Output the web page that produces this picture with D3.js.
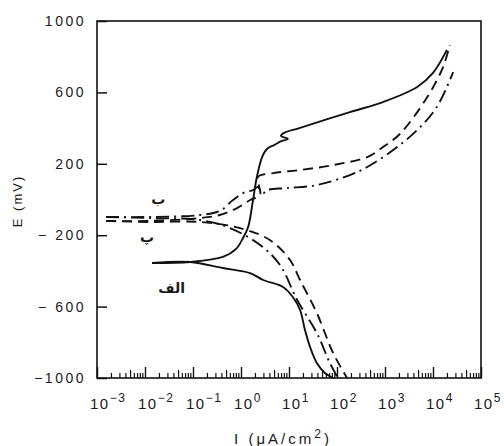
<!DOCTYPE html>
<html><head><meta charset="utf-8">
<script src="https://cdn.jsdelivr.net/npm/d3@7"></script>
<style>
html,body{margin:0;padding:0;background:#fff;}
svg text{font-family:"Liberation Sans","DejaVu Sans",sans-serif;fill:#1a1a1a;}
</style></head>
<body><svg id="c" width="504" height="446"></svg>
<script>
// ---- data ----
const xTickValues = [1e-3,1e-2,1e-1,1e0,1e1,1e2,1e3,1e4,1e5];
const xTickExps = ["-3","-2","-1","0","1","2","3","4","5"];
const yTickValues = [1000,600,200,-200,-600,-1000];
const yTickLabels = ["1000","600","200","\u2212 200","\u2212 600","\u22121000"];

// Curve الف (solid)
const aAnodicI = [0.014,0.087,0.42,0.79,1.1,1.41,1.78,2.14,2.75,3.47,4.9,7.1,9.5,6.8,7.9,17,186,912,4680,10000,19500];
const aAnodicE = [-356,-350,-322,-277,-216,-154,-3,126,238,283,305,328,339,356,373,401,490,546,630,709,838];
const aCathI = [0.014,0.087,0.42,1.54,2.9,7.5,12,17,21.5,27.4,38,56,83];
const aCathE = [-356,-350,-384,-412,-451,-490,-546,-619,-731,-826,-916,-972,-1000];

// Curve ب (dash-dot)
const bAnodicI = [0.00155,0.0126,0.14,0.36,0.68,1.1,1.78,2.24,2.9,3.47,9.1,38,186,427,1480,4680,12000,26300];
const bAnodicE = [-98,-98,-87,-64,-3,36,53,70,36,53,64,81,137,182,277,389,518,714];
const bCathI = [0.00155,0.0126,0.14,0.59,2.5,6.5,14.8,38,71,105];
const bCathE = [-98,-104,-115,-160,-255,-367,-563,-748,-916,-1000];

// Curve پ (dashed)
const cAnodicI = [0.00155,0.0126,0.14,0.36,0.83,1.55,2.5,2.37,2.24,4.7,17,83,427,912,2040,7600,16200,22400];
const cAnodicE = [-120,-120,-104,-87,-48,-3,25,76,126,148,165,193,238,294,367,574,742,866];
const cCathI = [0.00155,0.0126,0.14,0.95,4.0,10.5,17,38,83,162];
const cCathE = [-120,-126,-126,-160,-227,-339,-451,-636,-860,-1000];

const curveLabels = ["\u0628","\u067E","\u0627\u0644\u0641"];
const curveLabelI = [0.019,0.011,0.036];
const curveLabelE = [-25,-238,-524];

// ---- chart ----
const svg = d3.select("#c");
const L=97,R=481,T=21,B=378;
const x = d3.scaleLog().domain([1e-3,1e5]).range([L,R]);
const y = d3.scaleLinear().domain([-1000,1000]).range([B,T]);
const ink="#111";

svg.append("rect").attr("x",L).attr("y",T).attr("width",R-L).attr("height",B-T)
  .attr("fill","none").attr("stroke",ink).attr("stroke-width",1.6);

// y ticks (inward)
const yAxis = d3.axisRight(y).tickValues(yTickValues).tickSize(10).tickFormat("");
const gy = svg.append("g").attr("transform",`translate(${L},0)`).call(yAxis);
gy.select(".domain").remove();
gy.selectAll("line").attr("stroke",ink).attr("stroke-width",1.5);
svg.selectAll(".ylab").data(yTickValues).enter().append("text")
  .attr("x",86).attr("y",d=>y(d)+5).attr("text-anchor","end")
  .attr("font-size",14).attr("letter-spacing","2.5px")
  .text((d,i)=>yTickLabels[i]);

// x ticks (inward, minor)
const minor=[];
for(let k=0;k<xTickValues.length-1;k++){for(let m=2;m<=9;m++){minor.push(xTickValues[k]*m);}}
svg.append("g").selectAll("line").data(minor).enter().append("line")
  .attr("x1",d=>x(d)).attr("x2",d=>x(d)).attr("y1",B)
  .attr("y2",d=>{const m=Math.round(d/Math.pow(10,Math.floor(Math.log10(d)+1e-9)));return B-(m===5?8:5);})
  .attr("stroke",ink).attr("stroke-width",1.2);
const xAxis = d3.axisTop(x).tickValues(xTickValues).tickSize(11).tickFormat("");
const gx = svg.append("g").attr("transform",`translate(0,${B})`).call(xAxis);
gx.select(".domain").remove();
gx.selectAll("line").attr("stroke",ink).attr("stroke-width",1.4);
const xl = svg.selectAll(".xlab").data(xTickValues).enter().append("text")
  .attr("x",d=>x(d)-7).attr("y",409).attr("font-size",15).attr("letter-spacing","1.5px");
xl.append("tspan").text("10");
xl.append("tspan").attr("dy",-7).attr("font-size",12).text((d,i)=>xTickExps[i].replace("-","\u2212"));

// axis titles
const xt = svg.append("text").attr("x",283).attr("y",444).attr("text-anchor","middle")
  .attr("font-size",15).attr("letter-spacing","3px");
xt.append("tspan").text("I (\u03BCA/cm");
xt.append("tspan").attr("dy",-6).attr("font-size",12).text("2");
xt.append("tspan").attr("dy",6).text(")");
svg.append("text").attr("transform","translate(22,201) rotate(-90)").attr("text-anchor","middle")
  .attr("font-size",13).attr("letter-spacing","2px").text("E (mV)");

// curves
const line = d3.line().x(d=>x(d[0])).y(d=>y(d[1])).curve(d3.curveCatmullRom.alpha(0.5));
const zip=(a,b)=>a.map((v,i)=>[v,b[i]]);
const series = [
  {I:aAnodicI,E:aAnodicE,dash:null},
  {I:aCathI,E:aCathE,dash:null},
  {I:bAnodicI,E:bAnodicE,dash:"13,5,2,5"},
  {I:bCathI,E:bCathE,dash:"13,5,2,5"},
  {I:cAnodicI,E:cAnodicE,dash:"10,6"},
  {I:cCathI,E:cCathE,dash:"10,6"}
];
series.forEach(s=>{
  svg.append("path").attr("d",line(zip(s.I,s.E))).attr("fill","none")
    .attr("stroke",ink).attr("stroke-width",1.9)
    .attr("stroke-dasharray",s.dash);
});

// curve labels
svg.selectAll(".clab").data(curveLabels).enter().append("text")
  .attr("x",(d,i)=>x(curveLabelI[i])).attr("y",(d,i)=>y(curveLabelE[i]))
  .attr("text-anchor","middle").attr("font-size",14).attr("font-weight","bold")
  .style("font-family","'DejaVu Sans',sans-serif")
  .text(d=>d);
</script></body></html>
